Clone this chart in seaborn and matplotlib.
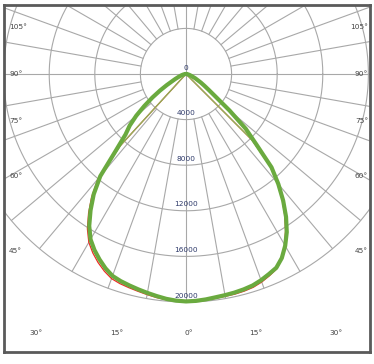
import numpy as np
import pandas as pd
import matplotlib
matplotlib.use('Agg')
import matplotlib.pyplot as plt
import seaborn as sns

# angles (deg from nadir) and intensities, left half and right half of the curves
angles = [0, 2.5, 5, 7.5, 10, 12.5, 15, 17.5, 20, 22.5, 25, 27.5, 30, 32.5, 35, 37.5,
          40, 42.5, 45, 47.5, 50, 52.5, 55, 57.5, 60, 65, 70, 75, 80, 85, 90]

green_left = [19950, 19900, 19800, 19650, 19500, 19350, 19200, 19050, 18850, 18450, 17950, 17400,
              16750, 15800, 14600, 13300, 11700, 9100, 7500, 6700, 5700, 4600, 3600, 2700,
              1950, 1050, 620, 380, 220, 100, 0]
green_right = [19950, 19920, 19850, 19760, 19700, 19640, 19560, 19450, 19250, 19000, 18750, 18200,
               17400, 16450, 15300, 14000, 12600, 11100, 8700, 7100, 5000, 3300, 2450, 1900,
               1500, 900, 520, 320, 180, 80, 0]

red_left = [19980, 19950, 19880, 19780, 19650, 19520, 19400, 19280, 19100, 18720, 18250, 17700,
            17050, 16100, 14900, 13600, 12000, 8600, 0, 0, 0, 0, 0, 0,
            0, 0, 0, 0, 0, 0, 0]
red_right = [19980, 19960, 19920, 19850, 19800, 19780, 19720, 19620, 19420, 19150, 18850, 18200,
             17300, 16250, 15100, 13850, 12450, 10900, 8200, 0, 0, 0, 0, 0,
             0, 0, 0, 0, 0, 0, 0]

thin_green_left = [19950, 19910, 19820, 19690, 19550, 19400, 19270, 19120, 18930, 18550, 18050, 17500,
                   16850, 15900, 14700, 13400, 11800, 8500, 0, 0, 0, 0, 0, 0,
                   0, 0, 0, 0, 0, 0, 0]
thin_green_right = [19950, 19920, 19860, 19770, 19710, 19660, 19580, 19470, 19270, 19020, 18750, 18200,
                    17380, 16400, 15250, 13950, 12550, 11000, 8250, 0, 0, 0, 0, 0,
                    0, 0, 0, 0, 0, 0, 0]

ring_values = [4000, 8000, 12000, 16000, 20000]
ring_labels = ['0', '4000', '8000', '12000', '16000', '20000']
spoke_step = 10
side_labels = [105, 90, 75, 60, 45]
bottom_labels = [30, 15, 0]


def to_xy(left, right):
    a = np.radians(np.array(angles[::-1] + angles[1:], dtype=float))
    sign = np.array([-1.0] * len(angles) + [1.0] * (len(angles) - 1))
    r = np.array(left[::-1] + right[1:], dtype=float)
    return pd.DataFrame({'x': sign * r * np.sin(a), 'y': -r * np.cos(a)})


sns.set_style('white')
plt.rcParams['font.family'] = ['DejaVu Sans']

fig = plt.figure(figsize=(3.74, 3.64), dpi=100)
ax = fig.add_axes([4 / 374, 12 / 364, 366 / 374, 347 / 364])

px = 228 / 20000  # pixels per unit
ax.set_xlim(-182 / px, 184 / px)
ax.set_ylim(-278 / px, 69 / px)

grid_c = '#a8a8a8'
t = np.linspace(0, 2 * np.pi, 400)
rmax = ring_values[-1]
for rv in ring_values:
    ax.plot(rv * np.cos(t), rv * np.sin(t), color=grid_c, lw=0.8, zorder=1)
for deg in range(0, 360, spoke_step):
    a = np.radians(deg)
    r0 = 0 if deg % 90 == 0 else ring_values[0]
    ax.plot([r0 * np.sin(a), rmax * np.sin(a)], [-r0 * np.cos(a), -rmax * np.cos(a)],
            color=grid_c, lw=0.8, zorder=1)

# curves
sns.lineplot(data=to_xy(red_left, red_right), x='x', y='y', sort=False, estimator=None,
             color='#ee2a24', lw=0.9, ax=ax, zorder=3)
sns.lineplot(data=to_xy(thin_green_left, thin_green_right), x='x', y='y', sort=False, estimator=None,
             color='#8ab85a', lw=0.9, ax=ax, zorder=3)
sns.lineplot(data=to_xy(green_left, green_right), x='x', y='y', sort=False, estimator=None,
             color='#6aaa3f', lw=3.0, ax=ax, zorder=4)

# ring labels
for i, lab in enumerate(ring_labels):
    rv = 0 if i == 0 else ring_values[i - 1]
    ax.annotate(lab, (0, -rv), xytext=(0, 2.5), textcoords='offset points',
                ha='center', va='bottom', fontsize=5.3, color='#2f3b6b', zorder=5)

# angle labels along the frame
xb = 177 / px
yb = -259 / px
for deg in side_labels:
    a = np.radians(deg)
    y = -xb / np.tan(a)
    ax.text(-xb, y, f'{deg}°', ha='left', va='center', fontsize=5.3, color='#444444', zorder=5)
    ax.text(xb + 5 / px, y, f'{deg}°', ha='right', va='center', fontsize=5.3, color='#444444', zorder=5)
for deg in bottom_labels:
    a = np.radians(deg)
    x = -yb * np.tan(a)
    for s in ([1] if deg == 0 else [-1, 1]):
        ax.text(s * x + 3 / px * (deg == 0), yb, f'{deg}°', ha='center', va='center',
                fontsize=5.3, color='#444444', zorder=5)

ax.set_xticks([])
ax.set_yticks([])
ax.set_xlabel('')
ax.set_ylabel('')
for sp in ax.spines.values():
    sp.set_visible(True)
    sp.set_color('#5a5a5a')
    sp.set_linewidth(2.0)

fig.savefig('out.png', dpi=100, facecolor='white')
